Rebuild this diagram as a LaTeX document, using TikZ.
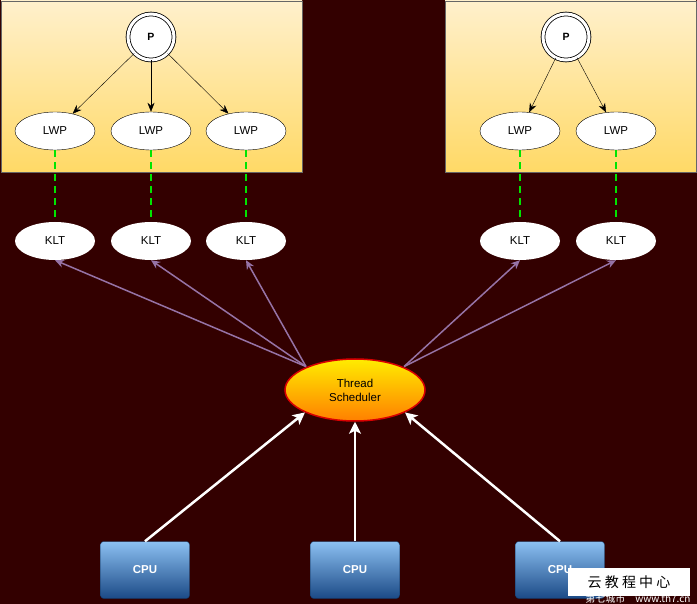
\documentclass[tikz,border=0pt]{standalone}
\usepackage{fontspec}
\setmainfont{Liberation Sans}
\newfontfamily\cjk{Noto Sans CJK SC}
\usetikzlibrary{shapes.geometric,positioning,arrows.meta}

\definecolor{bgdark}{HTML}{330000}
\definecolor{procTop}{HTML}{FFF0CC}
\definecolor{procBot}{HTML}{FFD966}
\definecolor{mapPurple}{HTML}{9673A6}
\definecolor{cpuTop}{HTML}{8CC0F2}
\definecolor{cpuBot}{HTML}{1B4A86}
\definecolor{cpuLine}{HTML}{10305A}

\tikzstyle{procBox}=[draw=black!60,top color=procTop,bottom color=procBot]
\tikzstyle{procNode}=[circle,draw,fill=white,double,double distance=3pt,line width=0.8pt,minimum size=46pt,inner sep=0pt,font=\bfseries\fontsize{10.5}{12}\selectfont]
\tikzstyle{lwpNode}=[ellipse,draw,fill=white,minimum width=80pt,minimum height=38pt,inner sep=0pt,font=\fontsize{11.5}{13}\selectfont]
\tikzstyle{kltNode}=[ellipse,fill=white,minimum width=80pt,minimum height=38pt,inner sep=0pt,font=\fontsize{11.5}{13}\selectfont]
\tikzstyle{schedNode}=[ellipse,draw=red!85!black,line width=1.5pt,top color=yellow!85!orange,bottom color=orange,minimum width=140pt,minimum height=62pt,inner sep=0pt,align=center,font=\fontsize{11.5}{14}\selectfont]
\tikzstyle{cpuNode}=[rectangle,rounded corners=3pt,draw=cpuLine,top color=cpuTop,bottom color=cpuBot,minimum width=89pt,minimum height=57pt,inner sep=0pt,text=white,font=\bfseries\fontsize{11.5}{13}\selectfont]
\tikzstyle{bindLine}=[draw=green!90!black,line width=2.5pt,dash pattern=on 7pt off 5pt]
\tikzstyle{mapArrow}=[-{Stealth[length=9pt,width=8pt]},draw=mapPurple,line width=1.5pt]
\tikzstyle{runArrow}=[-{Stealth[length=12pt,width=12pt,inset=3pt]},draw=white,line width=2.5pt]

\begin{document}
\begin{tikzpicture}[x=1pt,y=-1pt,>={Stealth[length=9pt,width=7pt]}]

  \fill[bgdark] (0,0) rectangle (697,604);
  \useasboundingbox (0,0) rectangle (697,604);

  % processes
  \path[procBox] (1,1) rectangle (302,172);
  \path[procBox] (445,1) rectangle (696,172);

  \node[procNode] (p1) at (151,37) {P};
  \node[procNode] (p2) at (566,37) {P};

  \node[lwpNode] (lwp1) at (55,131) {LWP};
  \node[lwpNode] (lwp2) at (151,131) {LWP};
  \node[lwpNode] (lwp3) at (246,131) {LWP};
  \node[lwpNode] (lwp4) at (520,131) {LWP};
  \node[lwpNode] (lwp5) at (616,131) {LWP};

  \path[->,draw](p1)--(lwp1);
  \path[->,draw](p1)--(lwp2);
  \path[->,draw](p1)--(lwp3);
  \path[->,draw](p2)--(lwp4);
  \path[->,draw](p2)--(lwp5);

  % kernel threads
  \node[kltNode] (klt1) at (55,241) {KLT};
  \node[kltNode] (klt2) at (151,241) {KLT};
  \node[kltNode] (klt3) at (246,241) {KLT};
  \node[kltNode] (klt4) at (520,241) {KLT};
  \node[kltNode] (klt5) at (616,241) {KLT};

  \foreach \i in {1,...,5}
    \path[bindLine] (lwp\i) -- (klt\i);

  % scheduler
  \node[schedNode] (sched) at (355,390) {Thread\\Scheduler};

  \coordinate (sl) at ([shift={(1,-1)}]sched.north west);
  \coordinate (sr) at ([shift={(-1,-1)}]sched.north east);
  \path[mapArrow](sl)--(klt1.south);
  \path[mapArrow](sl)--(klt2.south);
  \path[mapArrow](sl)--(klt3.south);
  \path[mapArrow](sr)--(klt4.south);
  \path[mapArrow](sr)--(klt5.south);

  % processors
  \node[cpuNode] (cpu1) at (145,570) {CPU};
  \node[cpuNode] (cpu2) at (355,570) {CPU};
  \node[cpuNode] (cpu3) at (560,570) {CPU};

  \path[runArrow](cpu1.north)--(sched.south west);
  \path[runArrow](cpu2.north)--(sched.south);
  \path[runArrow](cpu3.north)--(sched.south east);

  % watermark
  \node[fill=white,minimum width=122pt,minimum height=28pt,inner sep=0pt,font=\cjk\fontsize{14}{16}\selectfont] (mark) at (629,582) {云 教 程 中 心};
  \node[inner sep=0pt,text=white,font=\cjk\fontsize{10}{11}\selectfont] (site) at (638,599) {第七城市\quad www.th7.cn};

\end{tikzpicture}
\end{document}
